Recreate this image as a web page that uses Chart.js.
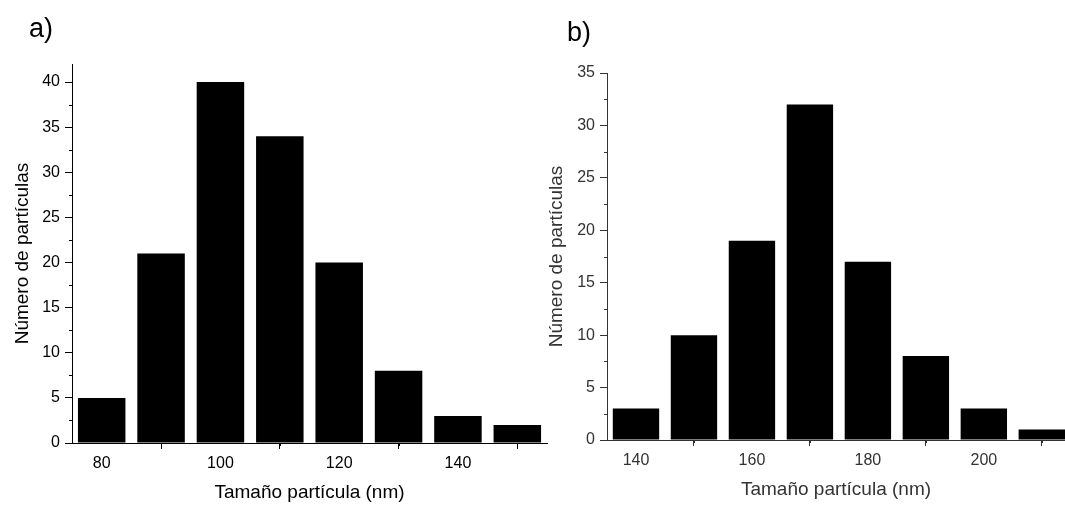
<!DOCTYPE html>
<html>
<head>
<meta charset="utf-8">
<script src="https://cdn.jsdelivr.net/npm/chart.js@4.4.1/dist/chart.umd.min.js"></script>
<style>
  html, body { margin: 0; padding: 0; background: #fff; }
  body { width: 1065px; height: 508px; position: relative; overflow: hidden; }
  canvas { position: absolute; top: 0; }
</style>
</head>
<body>
<canvas id="chartA" width="555" height="508" style="left:0"></canvas>
<canvas id="chartB" width="530" height="508" style="left:535px"></canvas>
<script>
// Histograma a) - tamaño de partícula
const binsA = [80, 90, 100, 110, 120, 130, 140, 150];
const countsA = [5, 21, 40, 34, 20, 8, 3, 2];
const xTicksA = [80, 100, 120, 140];
const xMinorA = [90, 110, 130, 150];
const yTicksA = [0, 5, 10, 15, 20, 25, 30, 35, 40];
const yMinorA = [2.5, 7.5, 12.5, 17.5, 22.5, 27.5, 32.5, 37.5];

// Histograma b)
const binsB = [140, 150, 160, 170, 180, 190, 200, 210];
const countsB = [3, 10, 19, 32, 17, 8, 3, 1];
const xTicksB = [140, 160, 180, 200];
const xMinorB = [150, 170, 190, 210];
const yTicksB = [0, 5, 10, 15, 20, 25, 30, 35];
const yMinorB = [2.5, 7.5, 12.5, 17.5, 22.5, 27.5, 32.5];

const FONT = "'Liberation Sans', Arial, sans-serif";

// ticks menores (mas cortos) sobre los ejes
const minorTicks = {
    id: 'minorTicks',
    afterDraw(chart, args, opts) {
        const { ctx, scales: { x, y } } = chart;
        ctx.save();
        ctx.strokeStyle = opts.color;
        ctx.lineWidth = 1;
        ctx.beginPath();
        opts.x.forEach(v => {
            const px = Math.round(x.getPixelForValue(v)) + 0.5;
            ctx.moveTo(px, y.bottom);
            ctx.lineTo(px, y.bottom + opts.len);
        });
        opts.y.forEach(v => {
            const py = Math.round(y.getPixelForValue(v)) + 0.5;
            ctx.moveTo(x.left, py);
            ctx.lineTo(x.left - opts.len, py);
        });
        ctx.stroke();
        ctx.restore();
    }
};

// etiqueta del panel: a), b)
const panelLabel = {
    id: 'panelLabel',
    afterDraw(chart, args, opts) {
        const ctx = chart.ctx;
        ctx.save();
        ctx.font = opts.size + 'px ' + FONT;
        ctx.fillStyle = opts.color;
        ctx.textBaseline = 'alphabetic';
        ctx.fillText(opts.text, opts.x, opts.y);
        ctx.restore();
    }
};

function makeHistogram(canvasId, cfg) {
    const ctx = document.getElementById(canvasId).getContext('2d');
    return new Chart(ctx, {
        type: 'bar',
        data: {
            datasets: [{
                data: cfg.bins.map((b, i) => ({ x: b, y: cfg.counts[i] })),
                backgroundColor: '#000',
                borderWidth: 0,
                barPercentage: 0.8,
                categoryPercentage: 1.0
            }]
        },
        plugins: [minorTicks, panelLabel],
        options: {
            responsive: false,
            animation: false,
            layout: { padding: { top: cfg.top, right: cfg.right, left: 0, bottom: 0 } },
            plugins: {
                legend: { display: false },
                tooltip: { enabled: false },
                minorTicks: { x: cfg.xMinor, y: cfg.yMinor, len: 3, color: cfg.axisColor },
                panelLabel: { text: cfg.label, x: cfg.labelX, y: cfg.labelY, size: 27, color: '#000' }
            },
            scales: {
                x: {
                    type: 'linear',
                    min: cfg.xMin,
                    max: cfg.xMax,
                    offset: false,
                    afterBuildTicks: s => { s.ticks = cfg.xTicks.map(v => ({ value: v })); },
                    afterFit: s => { s.height = cfg.xHeight; },
                    grid: { drawOnChartArea: false, drawTicks: true, tickLength: 6, color: cfg.axisColor },
                    border: { color: cfg.axisColor, width: 1 },
                    ticks: {
                        padding: cfg.xPad,
                        color: cfg.textColor,
                        maxRotation: 0,
                        autoSkip: false,
                        font: { family: FONT, size: cfg.tickSize }
                    },
                    title: {
                        display: true,
                        text: 'Tamaño partícula (nm)',
                        color: cfg.textColor,
                        font: { family: FONT, size: 19 },
                        padding: { top: 0, bottom: cfg.xTitlePad }
                    }
                },
                y: {
                    min: 0,
                    max: cfg.yMax,
                    afterBuildTicks: s => { s.ticks = cfg.yTicks.map(v => ({ value: v })); },
                    afterFit: s => { s.width = cfg.yWidth; },
                    grid: { drawOnChartArea: false, drawTicks: true, tickLength: 7, color: cfg.axisColor },
                    border: { color: cfg.axisColor, width: 1 },
                    ticks: {
                        padding: 5,
                        color: cfg.textColor,
                        autoSkip: false,
                        font: { family: FONT, size: cfg.tickSize }
                    },
                    title: {
                        display: true,
                        text: 'Número de partículas',
                        color: cfg.textColor,
                        font: { family: FONT, size: 19 },
                        padding: { top: cfg.yTitlePad, bottom: 0 }
                    }
                }
            }
        }
    });
}

makeHistogram('chartA', {
    bins: binsA, counts: countsA,
    xTicks: xTicksA, xMinor: xMinorA, yTicks: yTicksA, yMinor: yMinorA,
    xMin: 75, xMax: 155, yMax: 42,
    top: 64, right: 8, yWidth: 72, xHeight: 65,
    xPad: 5, xTitlePad: 4, yTitlePad: 11,
    tickSize: 16, textColor: '#000', axisColor: '#000',
    label: 'a)', labelX: 29, labelY: 37
});

makeHistogram('chartB', {
    bins: binsB, counts: countsB,
    xTicks: xTicksB, xMinor: xMinorB, yTicks: yTicksB, yMinor: yMinorB,
    xMin: 135, xMax: 214, yMax: 35,
    top: 73, right: 0, yWidth: 72, xHeight: 68,
    xPad: 5, xTitlePad: 7, yTitlePad: 10,
    tickSize: 16, textColor: '#333', axisColor: '#333',
    label: 'b)', labelX: 32, labelY: 41
});
</script>
</body>
</html>
